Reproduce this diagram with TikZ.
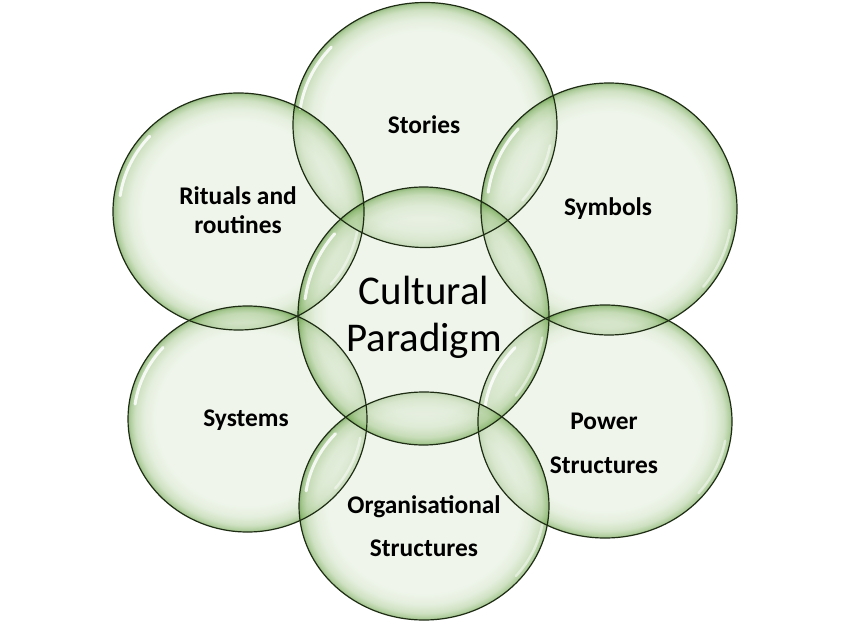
\documentclass[tikz,border=0pt]{standalone}
\usepackage{fontspec}
\setmainfont{Carlito}
\usetikzlibrary{shapes.geometric}
\pgfdeclareradialshading{bubble}{\pgfpointorigin}{%
  rgb(0bp)=(0.89,0.93,0.86);
  rgb(19bp)=(0.89,0.93,0.86);
  rgb(21.5bp)=(0.82,0.89,0.77);
  rgb(23.5bp)=(0.66,0.79,0.57);
  rgb(24.5bp)=(0.45,0.66,0.32);
  rgb(25bp)=(0.26,0.52,0.12);
  rgb(50bp)=(0.26,0.52,0.12)}
\definecolor{rimline}{RGB}{30,44,20}
\tikzset{
  bubblenode/.style={ellipse, inner sep=0pt, shading=bubble, fill opacity=0.55, draw=none},
  edgeline/.style={draw=rimline, line width=1.2bp},
  gloss/.style={draw=white, line width=3bp, draw opacity=0.85, line cap=round},
  glossfaint/.style={draw=white, line width=2.5bp, draw opacity=0.5, line cap=round},
  lbl/.style={font=\bfseries\fontsize{25.5}{28}\selectfont, anchor=base, inner sep=0pt, text=black},
  big/.style={font=\fontsize{41}{46}\selectfont, anchor=base, inner sep=0pt, text=black}
}
\begin{document}
\begin{tikzpicture}[x=1bp,y=-1bp]
\useasboundingbox (0,0) rectangle (851,624);
\fill[white] (0,0) rectangle (851,624);
\def\bubbles{stories/425/125/132/122.5, rituals/238.5/211.5/125.5/118.5, symbols/609/209/128/126, systems/247.5/419/119.5/113, power/605/421.5/127/116.5, org/424/506/125/114, cultural/423.5/316/125.5/129}
\foreach \n/\x/\y/\a/\b in \bubbles {
  \node[bubblenode, minimum width={2*\a bp}, minimum height={2*\b bp}] (\n) at (\x,\y) {};
}
\foreach \n/\x/\y/\a/\b in \bubbles {
  \draw[gloss] (\n.center) ++(188:{\a-6} and {\b-6}) arc[start angle=188, end angle=222, x radius={\a-6}, y radius={\b-6}];
  \draw[glossfaint] (\n.center) ++(10:{\a-5} and {\b-5}) arc[start angle=10, end angle=40, x radius={\a-5}, y radius={\b-5}];
}
\foreach \n/\x/\y/\a/\b in \bubbles {
  \draw[edgeline] (\n.center) ellipse [x radius=\a, y radius=\b];
}
\node[lbl] (t-stories) at (424,134) {Stories};
\node[lbl] (t-rituals1) at (238,205) {Rituals and};
\node[lbl] (t-rituals2) at (238,234) {routines};
\node[lbl] (t-symbols) at (608,216) {Symbols};
\node[lbl] (t-systems) at (246,426) {Systems};
\node[lbl] (t-power1) at (604,429) {Power};
\node[lbl] (t-power2) at (604,473) {Structures};
\node[lbl] (t-org1) at (424,513) {Organisational};
\node[lbl] (t-org2) at (424,556) {Structures};
\node[big] (t-cult1) at (424,304) {Cultural};
\node[big] (t-cult2) at (424,351) {Paradigm};
\end{tikzpicture}
\end{document}
